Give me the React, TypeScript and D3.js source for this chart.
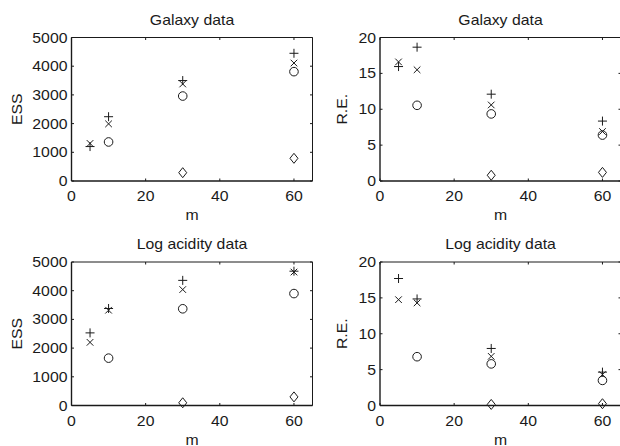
import React from "react";
import * as d3 from "d3";

const mPlus = [5, 10, 30, 60];
const mCross = [5, 10, 30, 60];
const mCircle = [10, 30, 60];
const mDiamond = [30, 60];

const galaxyEssPlus = [1200, 2240, 3500, 4450];
const galaxyEssCross = [1310, 1990, 3380, 4110];
const galaxyEssCircle = [1360, 2960, 3810];
const galaxyEssDiamond = [290, 790];

const galaxyRePlus = [15.95, 18.65, 12.1, 8.35];
const galaxyReCross = [16.6, 15.5, 10.6, 6.9];
const galaxyReCircle = [10.55, 9.35, 6.4];
const galaxyReDiamond = [0.8, 1.2];

const acidEssPlus = [2530, 3380, 4360, 4680];
const acidEssCross = [2200, 3320, 4040, 4650];
const acidEssCircle = [1650, 3370, 3900];
const acidEssDiamond = [95, 300];

const acidRePlus = [17.7, 14.85, 7.95, 4.65];
const acidReCross = [14.75, 14.3, 6.85, 4.3];
const acidReCircle = [6.8, 5.8, 3.5];
const acidReDiamond = [0.15, 0.25];

const xTicks = [0, 20, 40, 60];
const essTicks = [0, 1000, 2000, 3000, 4000, 5000];
const reTicks = [0, 5, 10, 15, 20];

const W = 620;
const H = 446;
const FONT = "'Liberation Sans', Arial, sans-serif";
const FS = 14;
const SX = 1.13;
const INK = "#1a1a1a";

type PanelProps = {
  x0: number;
  y0: number;
  title: string;
  ylabel: string;
  ylabelOffset: number;
  yMax: number;
  yTicks: number[];
  plus: number[];
  cross: number[];
  circle: number[];
  diamond: number[];
};

function T({ x, y, anchor, children, rotate }: any) {
  const tr = rotate
    ? `translate(${x},${y}) rotate(-90) scale(${SX},1)`
    : `translate(${x},${y}) scale(${SX},1)`;
  return (
    <text
      transform={tr}
      textAnchor={anchor || "middle"}
      fontFamily={FONT}
      fontSize={FS}
      fill={INK}
    >
      {children}
    </text>
  );
}

function Panel(p: PanelProps) {
  const pw = 241;
  const ph = 143.5;
  const x = d3.scaleLinear().domain([0, 65]).range([p.x0, p.x0 + pw]);
  const y = d3.scaleLinear().domain([0, p.yMax]).range([p.y0 + ph, p.y0]);
  const tl = 2.5;
  const left = x(0);
  const right = x(65);
  const top = y(p.yMax);
  const bottom = y(0);
  return (
    <g>
      <rect x={left} y={top} width={right - left} height={bottom - top} fill="white" stroke="none" />
      {xTicks.map((t) => (
        <g key={"xt" + t}>
          <line x1={x(t)} x2={x(t)} y1={bottom} y2={bottom - tl} stroke={INK} strokeWidth={1} />
          <line x1={x(t)} x2={x(t)} y1={top} y2={top + tl} stroke={INK} strokeWidth={1} />
          <T x={x(t)} y={bottom + 20}>{t}</T>
        </g>
      ))}
      {p.yTicks.map((t) => (
        <g key={"yt" + t}>
          <line x1={left} x2={left + tl} y1={y(t)} y2={y(t)} stroke={INK} strokeWidth={1} />
          <line x1={right} x2={right - tl} y1={y(t)} y2={y(t)} stroke={INK} strokeWidth={1} />
          <T x={left - 4} y={y(t) + 5} anchor="end">{t}</T>
        </g>
      ))}
      <line x1={left} x2={right} y1={top} y2={top} stroke={INK} strokeWidth={1} />
      <line x1={right} x2={right} y1={top} y2={bottom} stroke={INK} strokeWidth={1} />
      <line x1={left} x2={right} y1={bottom} y2={bottom} stroke={INK} strokeWidth={1.4} />
      <line x1={left} x2={left} y1={top} y2={bottom} stroke={INK} strokeWidth={1.4} />
      <T x={(left + right) / 2} y={top - 13}>{p.title}</T>
      <T x={(left + right) / 2} y={bottom + 39}>m</T>
      <T x={left - p.ylabelOffset} y={(top + bottom) / 2} rotate>{p.ylabel}</T>
      {p.plus.map((v, i) => {
        const cx = x(mPlus[i]);
        const cy = y(v);
        return (
          <path key={"p" + i} d={`M${cx - 4.5},${cy}H${cx + 4.5}M${cx},${cy - 4.5}V${cy + 4.5}`} stroke={INK} strokeWidth={1} fill="none" />
        );
      })}
      {p.cross.map((v, i) => {
        const cx = x(mCross[i]);
        const cy = y(v);
        const r = 3.3;
        return (
          <path key={"x" + i} d={`M${cx - r},${cy - r}L${cx + r},${cy + r}M${cx - r},${cy + r}L${cx + r},${cy - r}`} stroke={INK} strokeWidth={1} fill="none" />
        );
      })}
      {p.circle.map((v, i) => (
        <circle key={"c" + i} cx={x(mCircle[i])} cy={y(v)} r={4.3} stroke={INK} strokeWidth={1} fill="none" />
      ))}
      {p.diamond.map((v, i) => {
        const cx = x(mDiamond[i]);
        const cy = y(v);
        return (
          <path key={"d" + i} d={`M${cx},${cy - 5}L${cx + 4},${cy}L${cx},${cy + 5}L${cx - 4},${cy}Z`} stroke={INK} strokeWidth={1} fill="none" />
        );
      })}
    </g>
  );
}

export default function App() {
  return (
    <svg width={W} height={H} style={{ position: "absolute", left: 0, top: 0, background: "white" }}>
      <rect x={0} y={0} width={W} height={H} fill="white" />
      <Panel x0={71.5} y0={37.5} title="Galaxy data" ylabel="ESS" ylabelOffset={49.5} yMax={5000} yTicks={essTicks}
        plus={galaxyEssPlus} cross={galaxyEssCross} circle={galaxyEssCircle} diamond={galaxyEssDiamond} />
      <Panel x0={380} y0={37.5} title="Galaxy data" ylabel="R.E." ylabelOffset={33} yMax={20} yTicks={reTicks}
        plus={galaxyRePlus} cross={galaxyReCross} circle={galaxyReCircle} diamond={galaxyReDiamond} />
      <Panel x0={71.5} y0={262} title="Log acidity data" ylabel="ESS" ylabelOffset={49.5} yMax={5000} yTicks={essTicks}
        plus={acidEssPlus} cross={acidEssCross} circle={acidEssCircle} diamond={acidEssDiamond} />
      <Panel x0={380} y0={262} title="Log acidity data" ylabel="R.E." ylabelOffset={33} yMax={20} yTicks={reTicks}
        plus={acidRePlus} cross={acidReCross} circle={acidReCircle} diamond={acidReDiamond} />
    </svg>
  );
}
